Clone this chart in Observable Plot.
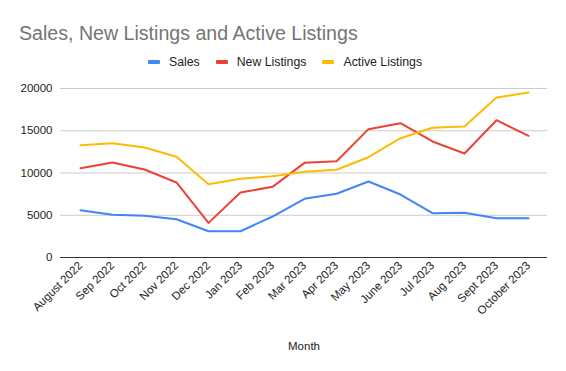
<!DOCTYPE html>
<html>
<head>
<meta charset="utf-8">
<script src="https://cdn.jsdelivr.net/npm/d3@7"></script>
<script src="https://cdn.jsdelivr.net/npm/@observablehq/plot@0.6"></script>
<style>
  html, body { margin: 0; padding: 0; background: #fff; }
  #wrap { width: 566px; height: 371px; position: relative; overflow: hidden; }
  #header { position: relative; width: 566px; height: 75px; }
  #title { position: absolute; left: 19px; top: 23px; font: 19.6px "Liberation Sans", Arial, sans-serif; line-height: 20px; color: #757575; white-space: nowrap; }
  #legend { position: absolute; left: 0; width: 566px; top: 53px; height: 18px; display: flex; justify-content: center; align-items: center; font: 12.3px "Liberation Sans", Arial, sans-serif; color: #222; padding-left: 4px; box-sizing: border-box; }
  .item { display: flex; align-items: center; margin: 0 8px; }
  .sw { width: 12px; height: 4px; margin-right: 9px; border-radius: 1px; }
  svg { display: block; }
</style>
</head>
<body>
<div id="wrap">
  <div id="header">
    <div id="title"></div>
    <div id="legend"></div>
  </div>
  <div id="chart"></div>
</div>
<script>
const titleText = "Sales, New Listings and Active Listings";
const months = ["August 2022","Sep 2022","Oct 2022","Nov 2022","Dec 2022","Jan 2023","Feb 2023","Mar 2023","Apr 2023","May 2023","June 2023","Jul 2023","Aug 2023","Sept 2023","October 2023"];
const seriesNames = ["Sales","New Listings","Active Listings"];
const seriesColors = ["#4285F4","#EA4335","#FBBC04"];
const sales = [5600,5050,4930,4530,3110,3110,4850,6940,7540,8990,7450,5250,5290,4650,4650];
const newListings = [10570,11240,10410,8880,4100,7690,8360,11200,11400,15190,15900,13730,12310,16250,14400];
const activeListings = [13290,13530,13020,11920,8680,9310,9620,10140,10380,11870,14120,15350,15500,18930,19530];
const yTicks = [0,5000,10000,15000,20000];
const xTitle = "Month";

document.getElementById("title").textContent = titleText;
const legend = document.getElementById("legend");
seriesNames.forEach((n, i) => {
  const it = document.createElement("div"); it.className = "item";
  const sw = document.createElement("div"); sw.className = "sw"; sw.style.background = seriesColors[i];
  const tx = document.createElement("span"); tx.textContent = n;
  it.appendChild(sw); it.appendChild(tx); legend.appendChild(it);
});

const seriesValues = [sales, newListings, activeListings];
const data = [];
seriesNames.forEach((s, si) => months.forEach((m, i) => data.push({series: s, month: m, value: seriesValues[si][i]})));

const chart = Plot.plot({
  width: 566,
  height: 296,
  marginTop: 13,
  marginBottom: 114,
  marginLeft: 60,
  marginRight: 19,
  style: {fontFamily: "'Liberation Sans', Arial, sans-serif", fontSize: "11.5px", color: "#222", background: "#fff"},
  x: {type: "point", domain: months, padding: 0.5, tickRotate: -45, tickSize: 0, tickPadding: 6, label: xTitle, labelAnchor: "center", labelOffset: 92},
  y: {domain: [0, 20000], ticks: yTicks, tickFormat: d3.format("d"), tickSize: 0, tickPadding: 8, label: null},
  color: {domain: seriesNames, range: seriesColors},
  marks: [
    Plot.ruleY(yTicks.slice(1), {stroke: "#cccccc", strokeWidth: 1}),
    Plot.line(data, {x: "month", y: "value", z: "series", stroke: "series", strokeWidth: 2}),
    Plot.ruleY([0], {stroke: "#333", strokeWidth: 1})
  ]
});
document.getElementById("chart").appendChild(chart);
</script>
</body>
</html>
